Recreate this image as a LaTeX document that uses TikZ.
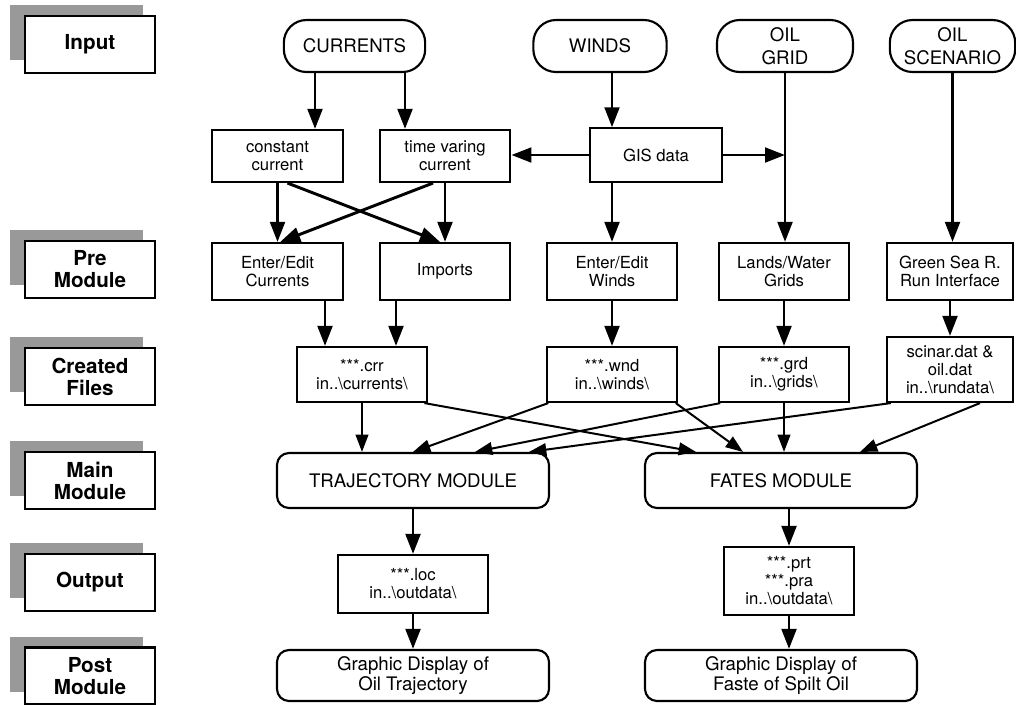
\documentclass[tikz,border=0pt]{standalone}
\usepackage{fontspec}
\setmainfont{TeX Gyre Heros}
\usetikzlibrary{arrows.meta}

\begin{document}
\begin{tikzpicture}[
  x=.75pt, y=-.75pt,
  every node/.style={inner sep=0pt, align=center},
  >={Triangle[length=15pt,width=11pt]},
  stage/.style={draw, line width=1.6pt, fill=white, minimum width=97.5pt,
    minimum height=42.75pt, font=\fontsize{15.5}{16.5}\selectfont\bfseries},
  stage shadow/.style={fill=black!40},
  source/.style={draw, line width=1.6pt, rounded corners=17pt,
    minimum height=39pt, font=\fontsize{14}{17}\selectfont},
  task/.style={draw, line width=1.6pt, minimum width=98pt,
    font=\fontsize{12.5}{13.5}\selectfont},
  module/.style={draw, line width=1.6pt, rounded corners=9pt,
    minimum width=204pt, font=\fontsize{14}{15}\selectfont},
  flow/.style={draw, line width=2.2pt, ->},
  feed/.style={draw, line width=1.5pt, -{Triangle[length=13pt,width=9.5pt]}}
]
\useasboundingbox (0,0) rectangle (1016,704);

% Row captions on the left, each with its grey offset shadow.
\foreach \nm/\yy/\txt in {in/44.5/Input, pre/269.5/Pre\\Module,
    crt/376.5/Created\\Files, main/480.5/Main\\Module,
    out/582.5/Output, post/676/Post\\Module} {
  \fill[stage shadow] (10,\yy-39.5) rectangle (143,\yy+15.5);
  \node[stage] (stage\nm) at (90,\yy) {\txt};
}

% Input sources
\node[source, minimum width=106pt] (currents) at (354.5,46) {CURRENTS};
\node[source, minimum width=100pt] (winds) at (600,46) {WINDS};
\node[source, minimum width=102pt] (oilgrid) at (785,46) {OIL\\GRID};
\node[source, minimum width=94pt] (scenario) at (952.5,46) {OIL\\SCENARIO};

% Current sources and GIS data
\node[task, minimum height=39pt] (constcur) at (277.5,156) {constant\\current};
\node[task, minimum height=39pt] (timecur) at (445,156) {time varing\\current};
\node[task, minimum height=40pt, minimum width=99pt] (gis) at (656,155) {GIS data};

% Pre modules
\node[task, minimum height=42.75pt] (curedit) at (277.5,271.5) {Enter/Edit\\Currents};
\node[task, minimum height=42.75pt] (imports) at (445,271.5) {Imports};
\node[task, minimum height=42.75pt] (windedit) at (612,271.5) {Enter/Edit\\Winds};
\node[task, minimum height=42.75pt] (gridedit) at (784,271.5) {Lands/Water\\Grids};
\node[task, minimum height=42.75pt, minimum width=95pt] (runint) at (950,271.5)
  {Green Sea R.\\Run Interface};

% Created files
\node[task, minimum height=41.25pt] (crr) at (362,374.5)
  {***.crr\\in..\textbackslash currents\textbackslash};
\node[task, minimum height=41.25pt] (wnd) at (612,374.5)
  {***.wnd\\in..\textbackslash winds\textbackslash};
\node[task, minimum height=41.25pt] (grd) at (784,374.5)
  {***.grd\\in..\textbackslash grids\textbackslash};
\node[task, minimum height=48.75pt, minimum width=95pt] (dat) at (950,369.5)
  {scinar.dat \&\\oil.dat\\in..\textbackslash rundata\textbackslash};

% Main modules
\node[module, minimum height=41.25pt] (traj) at (413,480.5) {TRAJECTORY MODULE};
\node[module, minimum height=41.25pt] (fates) at (781,480.5) {FATES MODULE};

% Output files
\node[task, minimum width=112pt, minimum height=43.5pt] (loc) at (413,584)
  {***.loc\\in..\textbackslash outdata\textbackslash};
\node[task, minimum height=51pt] (prt) at (789,581)
  {***.prt\\***.pra\\in..\textbackslash outdata\textbackslash};

% Post modules
\node[module, minimum height=38.25pt] (plottraj) at (413,675.5)
  {Graphic Display of\\Oil Trajectory};
\node[module, minimum height=38.25pt] (plotfate) at (781,675.5)
  {Graphic Display of\\Faste of Spilt Oil};

% Input -> first tasks
\path (currents.south) ++(-39.5,0) coordinate (cura)
      (currents.south) ++(50.5,0) coordinate (curb);
\draw[flow] (cura) -- (cura |- constcur.north);
\draw[flow] (curb) -- (curb |- timecur.north);
\draw[flow] (winds.south -| windedit.north) -- (windedit.north |- gis.north);
\draw[flow] (gis.west) -- (gis.west -| timecur.east);
\draw[flow] (gis.east) -- (gis.east -| oilgrid.south);
\draw[flow] (gis.south -| windedit.north) -- (windedit.north);
\draw[flow] (oilgrid.south) -- (oilgrid.south |- gridedit.north);
\draw[flow] (scenario.south) -- (scenario.south |- runint.north);

% Currents into the pre modules, crossing over
\draw[flow] (constcur.south) -- (curedit.north);
\draw[flow] (timecur.south) -- (imports.north);
\draw[flow] ([xshift=7.5pt]constcur.south) -- ([xshift=-3.75pt]imports.north);
\draw[flow] ([xshift=-9pt]timecur.south) -- ([xshift=2pt]curedit.north);

% Pre modules -> created files
\path (crr.north) ++(-37,0) coordinate (crra)
      (crr.north) ++(34,0) coordinate (crrb);
\draw[flow] (crra |- curedit.south) -- (crra);
\draw[flow] (crrb |- imports.south) -- (crrb);
\draw[flow] (windedit.south) -- (wnd.north);
\draw[flow] (gridedit.south) -- (grd.north);
\draw[flow] (runint.south) -- (dat.north);

% Created files feed both main modules
\draw[feed] (crr.south) -- (crr.south |- traj.north);
\draw[feed] ([xshift=-3pt]crr.south east) -- ([xshift=-63.75pt]fates.north);
\draw[feed] ([xshift=2pt]wnd.south west) -- (traj.north);
\draw[feed] ([xshift=-2pt]wnd.south east) -- ([xshift=-28.5pt]fates.north);
\draw[feed] ([xshift=2pt]grd.south west) -- ([xshift=46.5pt]traj.north);
\draw[feed] (grd.south) -- (grd.south |- fates.north);
\draw[feed] ([xshift=4pt]dat.south west) -- ([xshift=87pt]traj.north);
\draw[feed] ([xshift=22.5pt]dat.south) -- ([xshift=59.25pt]fates.north);

% Main modules -> output -> display
\draw[flow] (traj.south) -- (loc.north);
\draw[flow] (prt.north |- fates.south) -- (prt.north);
\draw[flow] (loc.south) -- (plottraj.north);
\draw[flow] (prt.south) -- (prt.south |- plotfate.north);
\end{tikzpicture}
\end{document}
